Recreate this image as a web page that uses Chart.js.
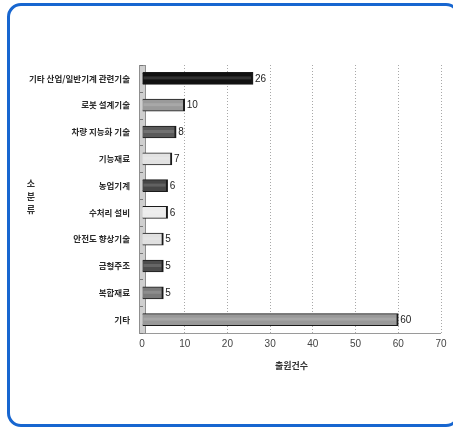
<!DOCTYPE html>
<html>
<head>
<meta charset="utf-8">
<script src="https://cdn.jsdelivr.net/npm/chart.js@4/dist/chart.umd.min.js"></script>
<style>
  html, body { margin: 0; padding: 0; background: #fff; overflow: hidden; }
  #frame {
    position: absolute; left: 7px; top: 3px; width: 447px; height: 418px;
    border: 3px solid #1766d0; border-radius: 14px; box-sizing: content-box;
  }
  #wrap { position: absolute; left: 0; top: 0; width: 453px; height: 427px; }
</style>
</head>
<body>
<div id="frame"></div>
<div id="wrap"><canvas id="c" width="453" height="427"></canvas></div>
<script>
// 소분류별 출원건수
const categories = [
  '기타 산업/일반기계 관련기술', '로봇 설계기술', '차량 지능화 기술', '기능재료', '농업기계',
  '수처리 설비', '안전도 향상기술', '금형주조', '복합재료', '기타'
];
const counts = [26, 10, 8, 7, 6, 6, 5, 5, 5, 60];
const barColors = ['#111111', '#9a9a9a', '#5a5a5a', '#e2e2e2', '#474747',
                   '#ececec', '#e0e0e0', '#4d4d4d', '#7a7a7a', '#999999'];
const xTicks = [0, 10, 20, 30, 40, 50, 60, 70];
const xTitle = '출원건수';
const yTitle = ['소', '분', '류'];

const KR = '"Noto Sans CJK KR", "Noto Sans", sans-serif';
const NARROW = '"Liberation Sans Narrow", "Liberation Sans", Arial, sans-serif';

// axis strip, solid base line, bar highlights, value labels and the stacked y title
const decor = {
  id: 'decor',
  beforeDatasetsDraw(chart) {
    const { ctx, chartArea: a } = chart;
    ctx.save();
    ctx.strokeStyle = '#9a9a9a';
    ctx.lineWidth = 1;
    ctx.beginPath(); ctx.moveTo(a.left, a.bottom + 0.5); ctx.lineTo(a.right, a.bottom + 0.5); ctx.stroke();
    ctx.fillStyle = '#cfcfcf';
    ctx.fillRect(a.left - 2, a.top, 6, a.bottom - a.top);
    ctx.strokeStyle = '#8f8f8f';
    ctx.strokeRect(a.left - 2.5, a.top + 0.5, 6, a.bottom - a.top);
    const y = chart.scales.y;
    ctx.strokeStyle = '#777';
    for (let i = 0; i <= categories.length; i++) {
      const py = Math.round(y.getPixelForValue(i - 0.5)) + 0.5;
      ctx.beginPath(); ctx.moveTo(a.left - 2, py); ctx.lineTo(a.left + 1, py); ctx.stroke();
    }
    ctx.restore();
  },
  afterDatasetsDraw(chart) {
    const { ctx } = chart;
    const meta = chart.getDatasetMeta(0);
    ctx.save();
    meta.data.forEach((bar, i) => {
      ctx.fillStyle = 'rgba(255,255,255,0.14)';
      ctx.fillRect(bar.base + 1, bar.y - 2, bar.x - bar.base - 3, 3);
      ctx.fillStyle = '#222';
      ctx.font = '10px ' + NARROW;
      ctx.textAlign = 'left';
      ctx.textBaseline = 'middle';
      ctx.fillText(String(counts[i]), bar.x + 2, bar.y + 0.5);
    });
    ctx.fillStyle = '#333';
    ctx.font = 'bold 9px ' + KR;
    ctx.textAlign = 'center';
    ctx.textBaseline = 'middle';
    yTitle.forEach((ch, k) => ctx.fillText(ch, 31, 184 + k * 13));
    ctx.restore();
  }
};

new Chart(document.getElementById('c'), {
  type: 'bar',
  data: {
    labels: categories,
    datasets: [{
      data: counts,
      backgroundColor: barColors,
      borderColor: '#1a1a1a',
      borderWidth: { top: 1, bottom: 1, left: 0, right: 2 },
      borderSkipped: false,
      barThickness: 12
    }]
  },
  options: {
    indexAxis: 'y',
    responsive: false,
    animation: false,
    layout: { padding: { left: 0, right: 12, top: 65, bottom: 56 } },
    plugins: { legend: { display: false }, tooltip: { enabled: false } },
    scales: {
      x: {
        min: 0, max: 70,
        afterBuildTicks(s) { s.ticks = xTicks.map(v => ({ value: v })); },
        afterFit(s) { s.height = 38; },
        grid: { color: '#a8a8a8', drawTicks: false },
        border: { display: false, dash: [1, 2] },
        ticks: { padding: 5, color: '#444', font: { family: NARROW, size: 10 } },
        title: { display: true, text: xTitle, color: '#333', padding: { top: 0, bottom: 0 },
                 font: { family: KR, size: 9, weight: 'bold' } }
      },
      y: {
        afterFit(s) { s.width = 142; },
        grid: { display: false },
        border: { display: false },
        ticks: { padding: 4, color: '#2a2a2a', font: { family: KR, size: 8.5, weight: 'bold' } }
      }
    }
  },
  plugins: [decor]
});
</script>
</body>
</html>
